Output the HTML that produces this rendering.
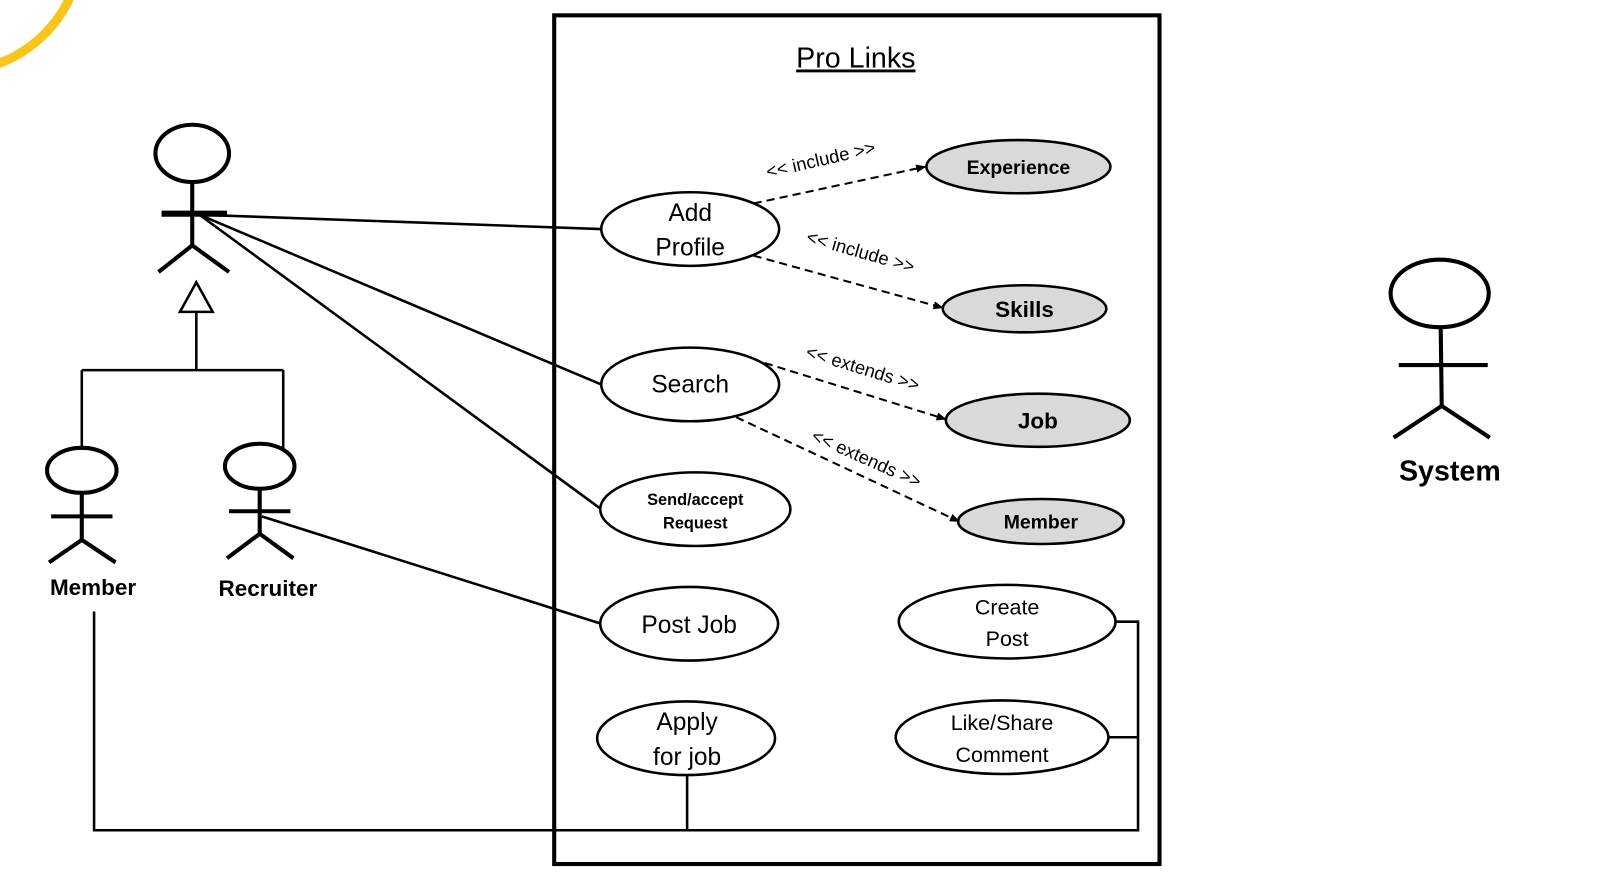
<!DOCTYPE html>
<html><head><style>body{margin:0;background:#fff}svg{display:block}text{font-family:"Liberation Sans","DejaVu Sans",sans-serif}</style></head>
<body>
<svg width="1600" height="873" viewBox="0 0 1600 873" xmlns="http://www.w3.org/2000/svg">
<defs><marker id="a" markerWidth="10" markerHeight="8" refX="9" refY="4" orient="auto" markerUnits="userSpaceOnUse"><path d="M0,0 L10,4 L0,8 z" fill="#000"/></marker></defs>
<g transform="scale(1.0225)">
<circle cx="-45" cy="-55" r="125" fill="none" stroke="#f8c51c" stroke-width="9"/>
<rect x="542" y="15" width="592" height="830" fill="none" stroke="#000" stroke-width="4"/>
<text x="837" y="66" font-size="28" text-anchor="middle" text-decoration="underline">Pro Links</text>
<g stroke="#000" fill="none" stroke-width="4">
<ellipse cx="188" cy="150" rx="36" ry="28"/>
<path d="M188 178V240M188 240L155 266M188 240L224 266"/>
<path d="M158 209H222" stroke-width="6"/>
<ellipse cx="80" cy="460" rx="34" ry="22"/>
<path d="M80 482V528M80 528L48 550M80 528L113 550M50 505H110"/>
<ellipse cx="254" cy="456" rx="34" ry="22"/>
<path d="M254 478V522M254 522L222 546M254 522L287 546M224 500H284"/>
<ellipse cx="1408" cy="287" rx="48" ry="33"/>
<path d="M1409 320L1410 397M1410 397L1363 428M1410 397L1457 428M1368 357H1455"/>
</g>
<g stroke="#000" fill="none" stroke-width="2.5">
<path d="M192 276L176 305H208Z"/>
<path d="M192 305V362M80 362H277M80 362V440M277 362V440"/>
<path d="M195 210L588 224M195 210L588 376M195 210L588 498M256 505L588 610"/>
<path d="M92 598V812H1113V608H1090M1085 721H1113M672 758V812"/>
</g>
<text x="91" y="582" font-size="22" font-weight="bold" text-anchor="middle">Member</text>
<text x="262" y="583" font-size="22" font-weight="bold" text-anchor="middle">Recruiter</text>
<text x="1418" y="470" font-size="28" font-weight="bold" text-anchor="middle">System</text>
<g stroke="#000" stroke-width="2.5" fill="#fff">
<ellipse cx="675" cy="224" rx="87" ry="36"/>
<ellipse cx="675" cy="376" rx="87" ry="36"/>
<ellipse cx="680" cy="498" rx="93" ry="36"/>
<ellipse cx="674" cy="610" rx="87" ry="36"/>
<ellipse cx="671" cy="722" rx="87" ry="36"/>
<ellipse cx="985" cy="608" rx="106" ry="36"/>
<ellipse cx="980" cy="721" rx="104" ry="36"/>
</g>
<g stroke="#000" stroke-width="2.5" fill="#d9d9d9">
<ellipse cx="996" cy="163" rx="90" ry="26"/>
<ellipse cx="1002" cy="302" rx="80" ry="23"/>
<ellipse cx="1015" cy="411" rx="90" ry="26"/>
<ellipse cx="1018" cy="510" rx="81" ry="22"/>
</g>
<g stroke="#000" stroke-width="2" stroke-dasharray="8,5" marker-end="url(#a)">
<line x1="737" y1="199" x2="905" y2="163"/>
<line x1="737" y1="250" x2="922" y2="301"/>
<line x1="748" y1="355" x2="925" y2="410"/>
<line x1="720" y1="408" x2="938" y2="510"/>
</g>
<g font-size="24" text-anchor="middle">
<text x="675" y="216">Add</text><text x="675" y="250">Profile</text>
<text x="675" y="384">Search</text>
<text x="674" y="619">Post Job</text>
<text x="672" y="714">Apply</text><text x="672" y="748">for job</text>
</g>
<g font-size="21" text-anchor="middle">
<text x="985" y="601">Create</text><text x="985" y="632">Post</text>
<text x="980" y="714">Like/Share</text><text x="980" y="745">Comment</text>
</g>
<text x="680" y="494" font-size="16" font-weight="bold" text-anchor="middle">Send/accept</text>
<text x="680" y="517" font-size="16" font-weight="bold" text-anchor="middle">Request</text>
<g font-size="19" font-weight="bold" text-anchor="middle">
<text x="996" y="170">Experience</text>
<text x="1002" y="310" font-size="22">Skills</text>
<text x="1015" y="419" font-size="22">Job</text>
<text x="1018" y="517">Member</text>
</g>
<g font-size="18" text-anchor="middle">
<text transform="translate(804,162) rotate(-13)">&lt;&lt; include &gt;&gt;</text>
<text transform="translate(840,252) rotate(16)">&lt;&lt; include &gt;&gt;</text>
<text transform="translate(842,366) rotate(17)">&lt;&lt; extends &gt;&gt;</text>
<text transform="translate(845,454) rotate(24)">&lt;&lt; extends &gt;&gt;</text>
</g>
</g>
</svg>
</body></html>
